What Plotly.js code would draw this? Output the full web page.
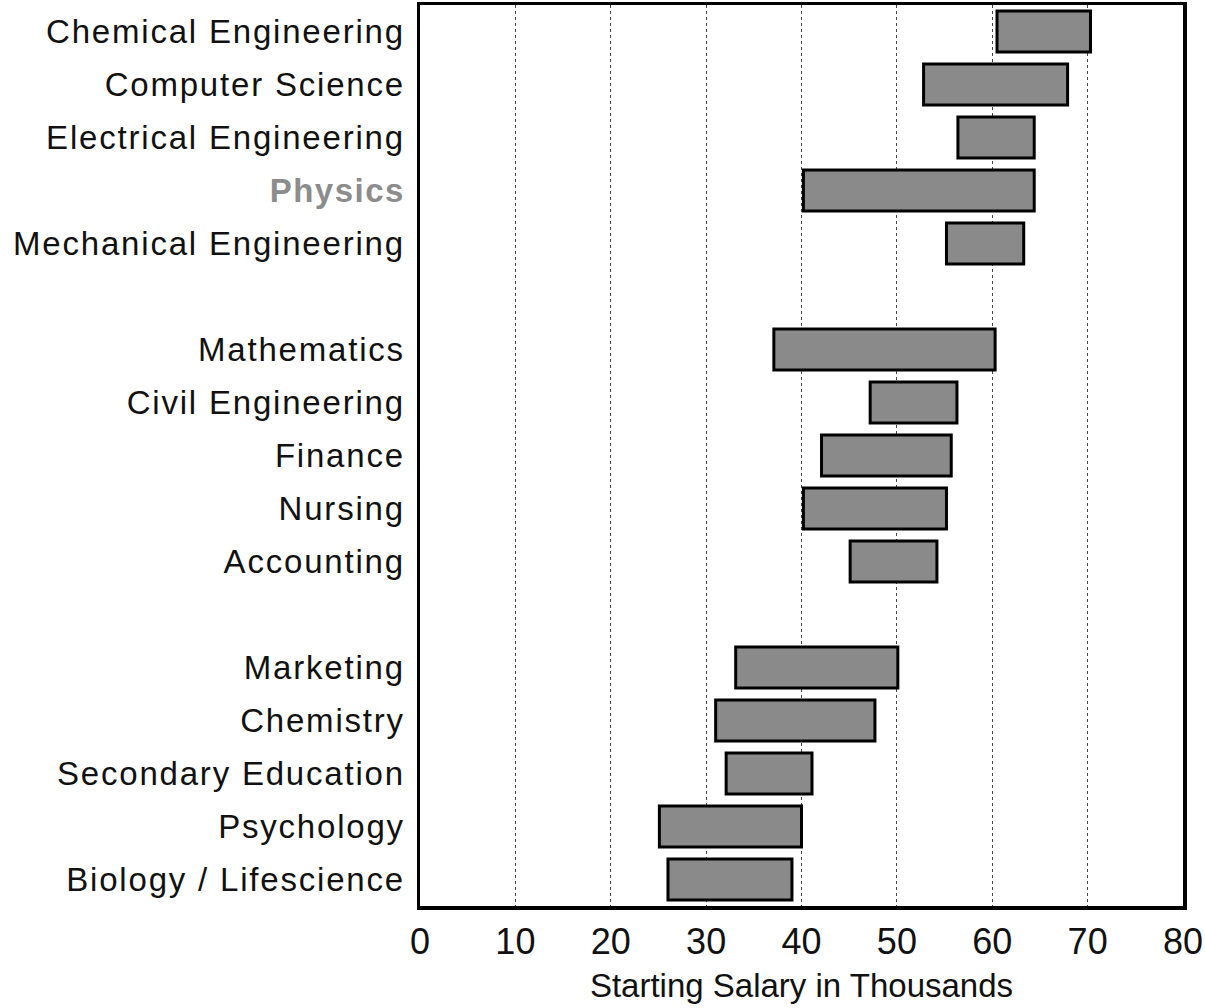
<!DOCTYPE html>
<html>
<head>
<meta charset="utf-8">
<script src="https://cdn.plot.ly/plotly-3.0.1.min.js"></script>
<style>html,body{margin:0;padding:0;background:#fff;}#chart{width:1205px;height:1008px;}</style>
</head>
<body>
<div id="chart"></div>
<script>
// Data
var majors = ["Chemical Engineering","Computer Science","Electrical Engineering","Physics","Mechanical Engineering",
  "Mathematics","Civil Engineering","Finance","Nursing","Accounting",
  "Marketing","Chemistry","Secondary Education","Psychology","Biology / Lifescience"];
var lowSalary  = [60.5, 52.8, 56.4, 40.2, 55.2, 37.1, 47.2, 42.1, 40.2, 45.1, 33.1, 31.0, 32.1, 25.1, 26.0];
var highSalary = [70.3, 67.9, 64.4, 64.4, 63.3, 60.3, 56.3, 55.7, 55.2, 54.2, 50.1, 47.7, 41.1, 40.0, 39.0];
// Category order on the axis, with blank separators between groups
var categoryOrder = ["Chemical Engineering","Computer Science","Electrical Engineering","Physics","Mechanical Engineering",
  "gap1",
  "Mathematics","Civil Engineering","Finance","Nursing","Accounting",
  "gap2",
  "Marketing","Chemistry","Secondary Education","Psychology","Biology / Lifescience"];
var xTicks = [0,10,20,30,40,50,60,70,80];

var tickText = categoryOrder.map(function(c){
  if (c.indexOf("gap") === 0) return "";
  if (c === "Physics") return "<span style='letter-spacing:1.5px'><b><span style='color:#8c8c8c'>Physics</span></b></span>";
  return "<span style='letter-spacing:1.8px'>" + c + "</span>";
});

var trace = {
  type: "bar",
  orientation: "h",
  y: majors,
  base: lowSalary,
  x: highSalary.map(function(h, i){ return h - lowSalary[i]; }),
  width: 0.77,
  marker: { color: "#8a8a8a", line: { color: "#000", width: 3 } },
  hoverinfo: "none"
};

var layout = {
  width: 1205, height: 1008,
  margin: { l: 420, r: 22, t: 5, b: 102 },
  paper_bgcolor: "#fff", plot_bgcolor: "#fff",
  showlegend: false,
  font: { family: "Liberation Sans, Arial, sans-serif", color: "#111", size: 30 },
  xaxis: {
    range: [0, 80],
    tickvals: xTicks,
    ticktext: xTicks.map(String),
    ticks: "",
    showgrid: true, gridcolor: "#444", griddash: "dot", gridwidth: 1,
    zeroline: false,
    showline: true, mirror: true, linecolor: "#000", linewidth: 3.5,
    tickfont: { size: 36, color: "#111" },
    ticklabelstandoff: 1,
    title: { text: "Starting Salary in Thousands", font: { size: 33, color: "#111" }, standoff: 14 }
  },
  yaxis: {
    type: "category",
    categoryorder: "array",
    categoryarray: categoryOrder,
    tickvals: categoryOrder,
    ticktext: tickText,
    range: [16.5, -0.5],
    ticks: "",
    showgrid: false,
    zeroline: false,
    showline: true, mirror: true, linecolor: "#000", linewidth: 3.5,
    tickfont: { size: 33, color: "#111" },
    ticklabelstandoff: 5
  }
};

Plotly.newPlot("chart", [trace], layout, { displayModeBar: false, staticPlot: true });
</script>
</body>
</html>
